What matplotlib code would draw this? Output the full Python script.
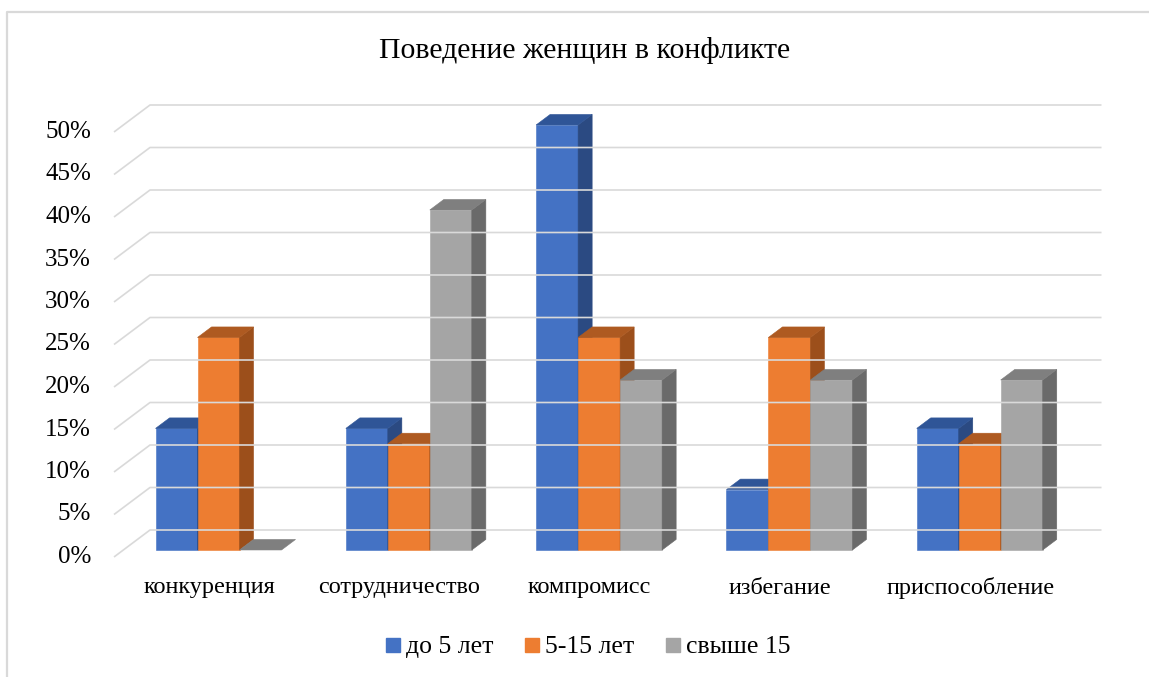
import matplotlib
matplotlib.use('Agg')
import matplotlib.pyplot as plt
from matplotlib.patches import Polygon
from matplotlib.lines import Line2D

plt.rcParams['font.family'] = ['Liberation Serif', 'DejaVu Serif']

title = 'Поведение женщин в конфликте'
categories = ['конкуренция', 'сотрудничество', 'компромисс', 'избегание', 'приспособление']
series_names = ['до 5 лет', '5-15 лет', 'свыше 15']
under_5 = [14.3, 14.3, 50.0, 7.1, 14.3]
from_5_to_15 = [25.0, 12.5, 25.0, 25.0, 12.5]
over_15 = [0.0, 40.0, 20.0, 20.0, 20.0]
y_ticks = [0, 5, 10, 15, 20, 25, 30, 35, 40, 45, 50]

series = [under_5, from_5_to_15, over_15]
# front, top, side shades for each series
shades = [
    ('#4472C4', '#2F5597', '#2B4A82'),
    ('#ED7D31', '#AE5A21', '#9C4F1B'),
    ('#A5A5A5', '#7F7F7F', '#6A6A6A'),
]

# pixel scale of the back wall
CAT_PX = 190.3
PCT_PX = 8.5
X0_PX, Y0_PX = 150, 530
W, H = 1149, 677

# oblique depth offset (depth 1 = front edge of the floor)
DX = 36 / CAT_PX
DY = 27 / PCT_PX
T_FRONT, T_BACK = 0.74, 0.35
BAR_W = 42 / CAT_PX


def px(x):
    return (x - X0_PX) / CAT_PX


def py(y):
    return (Y0_PX - y) / PCT_PX


def proj(x, y, t):
    return (x - DX * t, y - DY * t)


fig = plt.figure(figsize=(W / 100, H / 100), dpi=100)
ax = fig.add_axes([0, 0, 1, 1])
ax.set_xlim(px(0), px(W))
ax.set_ylim(py(H), py(0))
ax.axis('off')

grid_kw = dict(color='#D9D9D9', lw=1.2, solid_capstyle='butt')

# chart area border (top and left)
ax.plot([px(7), px(7), px(W)], [py(H), py(12), py(12)], color='#D9D9D9', lw=1.6)

# gridlines on side wall and back wall, plus value labels
n = len(categories)
for v in y_ticks:
    fx, fy = proj(0, v, 1)
    ax.plot([fx, 0, n], [fy, v, v], **grid_kw)
    ax.text(px(91), fy, f'{v}%', ha='right', va='center', fontsize=18)

# 3d columns
for i in range(n):
    left = i + 0.5 - 1.5 * BAR_W
    for j, vals in enumerate(series):
        h = vals[i]
        x0 = left + j * BAR_W
        x1 = x0 + BAR_W
        front_c, top_c, side_c = shades[j]
        front = [proj(x0, 0, T_FRONT), proj(x1, 0, T_FRONT),
                 proj(x1, h, T_FRONT), proj(x0, h, T_FRONT)]
        side = [proj(x1, 0, T_FRONT), proj(x1, 0, T_BACK),
                proj(x1, h, T_BACK), proj(x1, h, T_FRONT)]
        top = [proj(x0, h, T_FRONT), proj(x1, h, T_FRONT),
               proj(x1, h, T_BACK), proj(x0, h, T_BACK)]
        if h > 0:
            ax.add_patch(Polygon(front, closed=True, fc=front_c, ec=front_c, lw=0.4))
            ax.add_patch(Polygon(side, closed=True, fc=side_c, ec=side_c, lw=0.4))
        ax.add_patch(Polygon(top, closed=True, fc=top_c, ec=top_c, lw=0.4))

    lx, _ = proj(i + 0.5, 0, 1)
    ax.text(lx, py(588), categories[i], ha='center', va='center', fontsize=17.5)

ax.text(px(585), py(50), title, ha='center', va='center', fontsize=21.5)

handles = [Line2D([], [], ls='none', marker='s', markersize=9.5,
                  markerfacecolor=s[0], markeredgecolor=s[0]) for s in shades]
fig.legend(handles, series_names, loc='center', bbox_to_anchor=(588 / W, 1 - 647 / H),
           ncol=3, frameon=False, fontsize=18.5, handlelength=0.6,
           handletextpad=0.2, columnspacing=1.2)

fig.savefig('out.png', dpi=100)
